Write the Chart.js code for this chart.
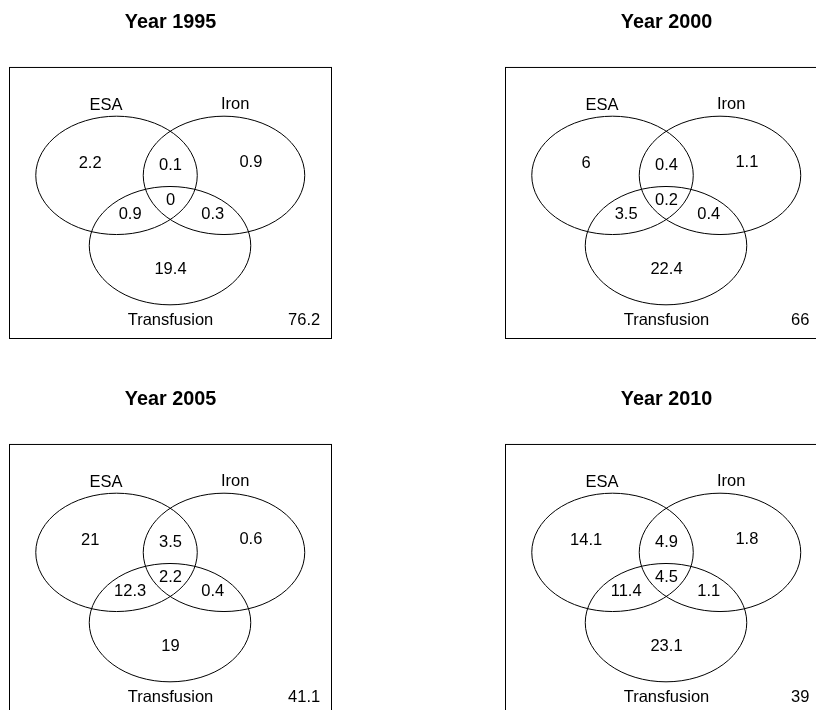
<!DOCTYPE html>
<html>
<head>
<meta charset="utf-8">
<script src="https://cdn.jsdelivr.net/npm/chart.js@4/dist/chart.umd.min.js"></script>
<style>
  html, body { margin: 0; padding: 0; background: #fff; overflow: hidden; }
  body { width: 816px; height: 710px; position: relative; }
  canvas { position: absolute; }
</style>
</head>
<body>
<canvas id="c0" width="345" height="360" style="left:0px;top:0px"></canvas>
<canvas id="c1" width="345" height="360" style="left:496px;top:0px"></canvas>
<canvas id="c2" width="345" height="360" style="left:0px;top:377px"></canvas>
<canvas id="c3" width="345" height="360" style="left:496px;top:377px"></canvas>
<script>
// dados (percentagens por regiao do diagrama)
const years = ["Year 1995", "Year 2000", "Year 2005", "Year 2010"];
const setNames = ["ESA", "Iron", "Transfusion"];
const regions = ["ESA only", "Iron only", "ESA & Iron", "ESA & Transfusion", "Iron & Transfusion", "All three", "Transfusion only", "None"];
const counts1995 = [2.2, 0.9, 0.1, 0.9, 0.3, 0, 19.4, 76.2];
const counts2000 = [6, 1.1, 0.4, 3.5, 0.4, 0.2, 22.4, 66];
const counts2005 = [21, 0.6, 3.5, 12.3, 0.4, 2.2, 19, 41.1];
const counts2010 = [14.1, 1.8, 4.9, 11.4, 1.1, 4.5, 23.1, 39];
const allCounts = [counts1995, counts2000, counts2005, counts2010];

// geometria do diagrama (unidades dos eixos -4..4)
const circleX = [-1.337, 1.325, -0.012];
const circleY = [0.812, 0.812, -1.255];
const radiusX = 2.0;
const radiusY = 1.74;
const setLabelX = [-1.6, 1.6, 0];
const setLabelY = [2.88, 2.89, -3.46];
const regionX = [-1.99, 0, 1.99, -1.0, 1.045, 0, 0, 3.31];
const regionY = [1.175, 1.09, 1.2, -0.33, -0.33, 0.08, -1.95, -3.46];
// ordem das posicoes acima: ESA only, ESA&Iron, Iron only, ESA&T, Iron&T, all, T only, none
const regionOrder = [0, 2, 1, 3, 4, 5, 6, 7];

const fonte = "'Liberation Sans', Arial, Helvetica, sans-serif";

const vennPlugin = {
    id: "venn",
    afterDatasetsDraw(chart) {
        const { ctx, chartArea: a, scales: { x, y } } = chart;
        const counts = chart.options.plugins.venn.counts;
        ctx.save();
        ctx.strokeStyle = "#000";
        ctx.lineWidth = 1;
        ctx.strokeRect(a.left + 0.5, a.top + 0.5, a.width - 1, a.height - 1);

        circleX.forEach((cx, i) => {
            const px = x.getPixelForValue(cx);
            const py = y.getPixelForValue(circleY[i]);
            const rx = x.getPixelForValue(cx + radiusX) - px;
            const ry = py - y.getPixelForValue(circleY[i] + radiusY);
            ctx.beginPath();
            ctx.ellipse(px, py, rx, ry, 0, 0, Math.PI * 2);
            ctx.stroke();
        });

        ctx.fillStyle = "#000";
        ctx.font = "16.5px " + fonte;
        ctx.textAlign = "center";
        ctx.textBaseline = "middle";
        setNames.forEach((nome, i) => {
            ctx.fillText(nome, x.getPixelForValue(setLabelX[i]), y.getPixelForValue(setLabelY[i]));
        });

        const meta = chart.getDatasetMeta(0);
        meta.data.forEach((pt, i) => {
            ctx.fillText(String(counts[regionOrder[i]]), pt.x, pt.y);
        });
        ctx.restore();
    }
};

years.forEach((ano, k) => {
    new Chart(document.getElementById("c" + k), {
        type: "scatter",
        data: {
            datasets: [{
                label: "regioes",
                data: regionX.map((xv, i) => ({ x: xv, y: regionY[i] })),
                pointRadius: 0,
                pointHoverRadius: 0
            }]
        },
        options: {
            responsive: false,
            animation: false,
            events: [],
            layout: { padding: { left: 9, right: 13, top: 0, bottom: 21 } },
            scales: {
                x: { type: "linear", min: -4, max: 4, display: false },
                y: { type: "linear", min: -4, max: 4, display: false }
            },
            plugins: {
                legend: { display: false },
                tooltip: { enabled: false },
                title: {
                    display: true,
                    text: ano,
                    color: "#000",
                    font: { family: fonte, size: 19.8, weight: "bold" },
                    padding: { top: 11, bottom: 32.2 }
                },
                venn: { counts: allCounts[k] }
            }
        },
        plugins: [vennPlugin]
    });
});
</script>
</body>
</html>
